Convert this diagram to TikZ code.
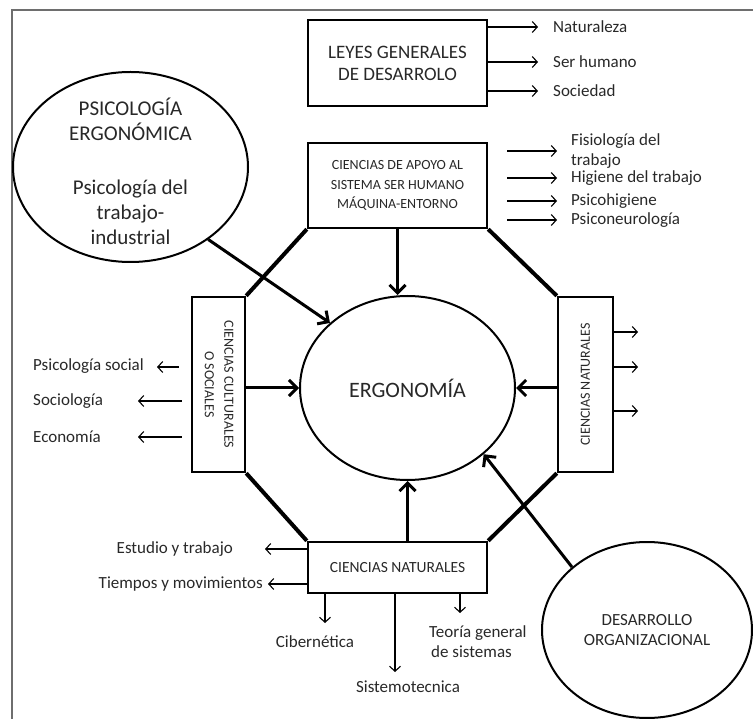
\documentclass[tikz,border=0pt]{standalone}
\usepackage{fontspec}
\setmainfont{Carlito}
\usetikzlibrary{arrows.meta,shapes.geometric,positioning}
\definecolor{FrameGray}{RGB}{110,110,110}
\definecolor{TextGray}{RGB}{40,40,40}

\tikzset{
  caja/.style={draw, line width=2.4pt, inner sep=2pt, align=center, text=TextGray,
    font=\fontsize{14}{19.5}\selectfont},
  ovalo/.style={ellipse, draw, line width=2pt, inner sep=0pt, align=center, text=TextGray},
  lbl/.style={inner sep=0pt, align=left, text=TextGray, font=\fontsize{17}{20}\selectfont},
  lado/.style={line width=4pt},
  flecha/.style={line width=3pt, -{Straight Barb[length=8pt,width=16pt]}},
  flechita/.style={line width=1.1pt, -{Straight Barb[length=5pt,width=11pt]}},
}

\begin{document}
\begin{tikzpicture}[x=1pt, y=-1pt]
  \useasboundingbox (0,0) rectangle (753,719);
  \draw[FrameGray, line width=1.5pt] (12,719) -- (12,10) -- (753,10);

  % cajas del octagono
  \node[caja, minimum width=179pt, minimum height=86pt,
    font=\fontsize{19}{22}\selectfont] (leyes) at (397.5,63)
    {LEYES GENERALES\\DE DESARROLO};
  \node[caja, minimum width=179pt, minimum height=85pt] (apoyo) at (397.5,185.5)
    {CIENCIAS DE APOYO AL\\SISTEMA SER HUMANO\\M\'AQUINA-ENTORNO};
  \node[caja, minimum width=53pt, minimum height=175pt] (cult) at (218.5,384.5)
    {\rotatebox{-90}{\begin{tabular}{@{}c@{}}CIENCIAS CULTURALES\\O SOCIALES\end{tabular}}};
  \node[caja, minimum width=55pt, minimum height=175pt] (natr) at (585.5,384.5)
    {\rotatebox{90}{CIENCIAS NATURALES}};
  \node[caja, minimum width=179pt, minimum height=51pt,
    font=\fontsize{15.5}{19.5}\selectfont] (bot) at (397.5,567.5)
    {CIENCIAS NATURALES};

  \draw[lado] (apoyo.south west) -- (cult.north east);
  \draw[lado] (cult.south east) -- (bot.north west);
  \draw[lado] (bot.north east) -- (natr.south west);
  \draw[lado] (natr.north west) -- (apoyo.south east);

  % ovalos
  \node[ovalo, minimum width=215pt, minimum height=184pt,
    font=\fontsize{22}{26}\selectfont] (ergo) at (407.5,388) {ERGONOM\'IA};
  \node[ovalo, minimum width=235pt, minimum height=190pt, inner sep=-24pt,
    font=\fontsize{21}{25}\selectfont] (psico) at (130.5,167)
    {\mbox{}\\[2pt]PSICOLOG\'IA\\ERGON\'OMICA\\[29pt]Psicolog\'ia del\\trabajo-\\industrial};
  \node[ovalo, minimum width=210pt, minimum height=176pt,
    font=\fontsize{17}{20}\selectfont] (des) at (647,630)
    {DESARROLLO\\ORGANIZACIONAL};

  % flechas hacia ergonomia
  \draw[flecha] (apoyo.south) -- (apoyo.south |- ergo.north);
  \draw[flecha] (cult.east |- ergo.west) -- (ergo.west);
  \draw[flecha] (natr.west |- ergo.east) -- (ergo.east);
  \draw[flecha] (bot.north -| ergo.south) -- (ergo.south);
  \draw[flecha] (psico.-43) -- (ergo.140);
  \draw[flecha] (des.140) -- (ergo.-41);

  % leyes generales
  \node[lbl, anchor=west] (nat) at (553,27) {Naturaleza};
  \node[lbl, anchor=west] (ser) at (553,62) {Ser humano};
  \node[lbl, anchor=west] (soc) at (553,91) {Sociedad};
  \foreach \n in {nat,ser,soc}
    \draw[flechita] (leyes.east |- \n.west) -- ([xshift=-15pt]\n.west);

  % ciencias de apoyo
  \node[lbl, anchor=west] (fis) at (571,151) {Fisiolog\'ia del\\trabajo};
  \node[lbl, anchor=west] (hig) at (571,178) {Higiene del trabajo};
  \node[lbl, anchor=west] (psh) at (571,201) {Psicohigiene};
  \node[lbl, anchor=west] (psn) at (571,220) {Psiconeurolog\'ia};
  \foreach \n in {fis,hig,psh,psn}
    \draw[flechita] ([xshift=19pt]apoyo.east |- \n.west) -- ([xshift=-14pt]\n.west);

  % ciencias culturales
  \node[lbl, anchor=west] (psoc) at (33,366) {Psicolog\'ia social};
  \node[lbl, anchor=west] (socio) at (33,401) {Sociolog\'ia};
  \node[lbl, anchor=west] (econ) at (33,437) {Econom\'ia};
  \coordinate (psocp) at (157,367);
  \coordinate (sociop) at (138,401);
  \coordinate (econp) at (138,437);
  \draw[flechita] ([xshift=-12pt]cult.west |- psocp) -- (psocp);
  \draw[flechita] ([xshift=-9pt]cult.west |- sociop) -- (sociop);
  \draw[flechita] ([xshift=-9pt]cult.west |- econp) -- (econp);

  % ciencias naturales (derecha)
  \foreach \i/\y in {1/332,2/367,3/411}{
    \coordinate (r\i) at (638,\y);
    \draw[flechita] (natr.east |- r\i) -- (r\i);
  }

  % ciencias naturales (abajo)
  \node[lbl, anchor=east] (est) at (233,549) {Estudio y trabajo};
  \node[lbl, anchor=east] (tie) at (263,584) {Tiempos y movimientos};
  \draw[flechita] (bot.west |- est) -- ([xshift=32pt]est.east);
  \draw[flechita] (bot.west |- tie) -- ([xshift=5pt]tie.east);
  \node[lbl] (cib) at (315,642) {Cibern\'etica};
  \node[lbl] (sis) at (408,687) {Sistemotecnica};
  \node[lbl, anchor=west] (teo) at (429,642) {Teor\'ia general\\\hspace{2pt}de sistemas};
  \coordinate (cibp) at (325,623);
  \coordinate (sisp) at (395,672);
  \coordinate (teop) at (460,613);
  \foreach \p in {cibp,sisp,teop}
    \draw[flechita] (bot.south -| \p) -- (\p);
\end{tikzpicture}
\end{document}
